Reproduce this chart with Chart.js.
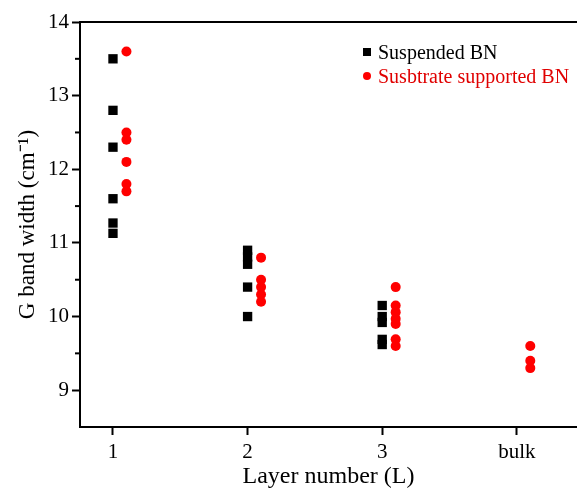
<!DOCTYPE html>
<html>
<head>
<meta charset="utf-8">
<script src="https://cdn.jsdelivr.net/npm/chart.js@4.4.1/dist/chart.umd.min.js"></script>
<style>
  html, body { margin: 0; padding: 0; background: #fff; }
  #caixa { position: relative; width: 577px; height: 491px; }
  #legenda {
    position: absolute; left: 362px; top: 40px;
    font-family: "Liberation Serif", "Times New Roman", serif;
    font-size: 20px; line-height: 24px;
  }
  .item { display: flex; align-items: center; height: 24px; white-space: nowrap; }
  .marca { width: 8px; height: 8px; margin: 0 7px 0 1px; }
</style>
</head>
<body>
<div id="caixa">
  <canvas id="grafico" width="577" height="491"></canvas>
  <div id="legenda"></div>
</div>
<script>
// categorias do eixo x (número de camadas)
const posicoesX = [1, 2, 3, 4];
const categorias = ["1", "2", "3", "bulk"];

// eixo y
const ticksY = [9, 10, 11, 12, 13, 14];
const ticksMenoresY = [9.5, 10.5, 11.5, 12.5, 13.5];

// Suspended BN
const suspensoX = [1, 1, 1, 1, 1, 1, 2, 2, 2, 2, 2, 3, 3, 3, 3, 3];
const suspensoY = [13.5, 12.8, 12.3, 11.6, 11.27, 11.13, 10.9, 10.81, 10.71, 10.4, 10.0, 10.15, 10.0, 9.92, 9.69, 9.62];

// Susbtrate supported BN
const suporteX = [1.1, 1.1, 1.1, 1.1, 1.1, 1.1, 2.1, 2.1, 2.1, 2.1, 2.1, 3.1, 3.1, 3.1, 3.1, 3.1, 3.1, 3.1, 4.1, 4.1, 4.1];
const suporteY = [13.6, 12.5, 12.4, 12.1, 11.8, 11.7, 10.8, 10.5, 10.4, 10.3, 10.2, 10.4, 10.15, 10.06, 9.97, 9.9, 9.69, 9.6, 9.6, 9.4, 9.3];

const fonte = "'Liberation Serif', 'Times New Roman', serif";

function juntar(xs, ys) {
  return xs.map((x, i) => ({ x: x, y: ys[i] }));
}

// zera o padding extra que o Chart.js calcula para os rótulos
function semPadding(s) {
  s.paddingLeft = 0;
  s.paddingRight = 0;
  s.paddingTop = 0;
  s.paddingBottom = 0;
}

// ticks curtos nas meias unidades do eixo y
const ticksMenores = {
  id: "ticksMenores",
  afterDraw(chart) {
    const esc = chart.scales.y;
    const ctx = chart.ctx;
    ctx.save();
    ctx.strokeStyle = "#000";
    ctx.lineWidth = 2;
    ticksMenoresY.forEach(v => {
      const py = esc.getPixelForValue(v);
      ctx.beginPath();
      ctx.moveTo(esc.right - 5, py);
      ctx.lineTo(esc.right, py);
      ctx.stroke();
    });
    ctx.restore();
  }
};

const grafico = new Chart(document.getElementById("grafico"), {
  type: "scatter",
  data: {
    datasets: [
      {
        label: "Suspended BN",
        data: juntar(suspensoX, suspensoY),
        pointStyle: "rect",
        pointRadius: 6.6,
        backgroundColor: "#000",
        borderWidth: 0
      },
      {
        label: "Susbtrate supported BN",
        data: juntar(suporteX, suporteY),
        pointStyle: "circle",
        pointRadius: 5,
        backgroundColor: "#ff0000",
        borderWidth: 0
      }
    ]
  },
  options: {
    responsive: false,
    animation: false,
    layout: { padding: 0, autoPadding: false },
    plugins: { legend: { display: false }, tooltip: { enabled: false } },
    scales: {
      x: {
        type: "linear",
        position: "bottom",
        min: 0.755,
        max: 4.447,
        afterBuildTicks: s => { s.ticks = posicoesX.map(v => ({ value: v })); },
        afterFit: s => { s.height = 64; semPadding(s); },
        ticks: {
          callback: (v, i) => categorias[i],
          font: { family: fonte, size: 21 },
          color: "#000",
          padding: 5,
          maxRotation: 0,
          autoSkip: false
        },
        grid: { drawOnChartArea: false, tickLength: 8, tickWidth: 2, tickColor: "#000", color: "#000" },
        border: { color: "#000", width: 2 },
        title: {
          display: true,
          text: "Layer number (L)",
          font: { family: fonte, size: 24 },
          color: "#000",
          padding: { top: 0, bottom: 0 }
        }
      },
      xTopo: {
        type: "linear",
        position: "top",
        min: 0.755,
        max: 4.447,
        afterFit: s => { s.height = 22; semPadding(s); },
        ticks: { display: false },
        grid: { display: false, drawTicks: false },
        border: { color: "#000", width: 2 }
      },
      y: {
        min: 8.5,
        max: 14,
        afterBuildTicks: s => { s.ticks = ticksY.map(v => ({ value: v })); },
        afterFit: s => { s.width = 80; semPadding(s); },
        ticks: {
          font: { family: fonte, size: 21 },
          color: "#000",
          padding: 3
        },
        grid: { drawOnChartArea: false, tickLength: 8, tickWidth: 2, tickColor: "#000", color: "#000" },
        border: { color: "#000", width: 2 },
        title: {
          display: true,
          text: "G band width (cm\u207B\u00B9)",
          font: { family: fonte, size: 23 },
          color: "#000",
          padding: { top: 14, bottom: 0 }
        }
      }
    }
  },
  plugins: [ticksMenores]
});

// legenda em HTML, montada a partir dos datasets
const legenda = document.getElementById("legenda");
const coresTexto = ["#000", "#e00000"];
grafico.data.datasets.forEach((ds, i) => {
  const item = document.createElement("div");
  item.className = "item";
  const marca = document.createElement("span");
  marca.className = "marca";
  marca.style.background = ds.backgroundColor;
  if (ds.pointStyle === "circle") marca.style.borderRadius = "50%";
  const texto = document.createElement("span");
  texto.textContent = ds.label;
  texto.style.color = coresTexto[i];
  item.appendChild(marca);
  item.appendChild(texto);
  legenda.appendChild(item);
});
</script>
</body>
</html>
